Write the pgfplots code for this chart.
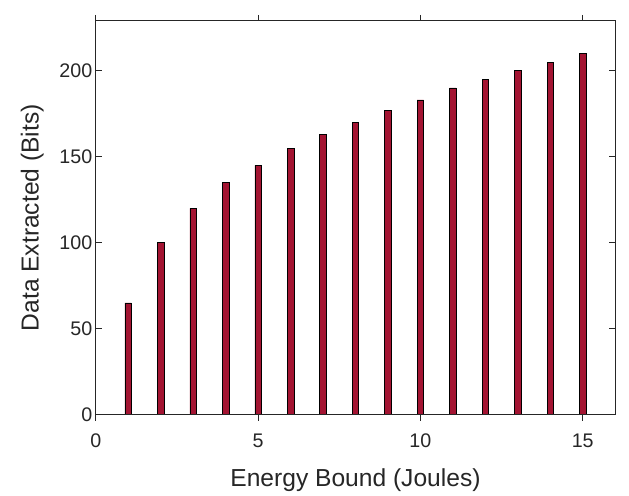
\documentclass[border=0pt]{standalone}
\usepackage{pgfplots}
\usepackage{fontspec}
\setmainfont{Liberation Sans}
\pgfplotsset{compat=1.18}
\definecolor{barred}{HTML}{A31432}
\definecolor{axgray}{HTML}{262626}

\begin{document}
\begin{tikzpicture}
\path (-97bp,-82bp) rectangle (540bp,420bp);
\begin{axis}[
at={(0,0)}, anchor=south west,
scale only axis,
width=526bp, height=399bp,
xmin=0, xmax=16,
ymin=0, ymax=229,
xtick={0,5,10,15},
ytick={0,50,100,150,200},
tick align=inside,
major tick length=6bp,
axis line style={line width=1.3pt, axgray},
tick style={line width=1.1pt, axgray},
ybar, bar width=0.2,
/pgf/number format/assume math mode=true,
tick label style={font=\fontsize{20}{24}\selectfont, text=axgray},
label style={font=\fontsize{25}{30}\selectfont, text=axgray},
xlabel={Energy Bound (Joules)},
ylabel={Data Extracted (Bits)},
xticklabel style={yshift=-10bp},
xlabel style={yshift=-14bp},
ylabel style={yshift=9bp},
]
\addplot[draw=black, fill=barred, line width=0.6pt] coordinates {
(1,65) (2,100) (3,120) (4,135) (5,145) (6,155) (7,163) (8,170)
(9,177) (10,183) (11,190) (12,195) (13,200) (14,205) (15,210)
};
\end{axis}
\draw[line width=1.3pt, axgray] (0bp,0bp) rectangle (526bp,399bp);
\end{tikzpicture}
\end{document}
